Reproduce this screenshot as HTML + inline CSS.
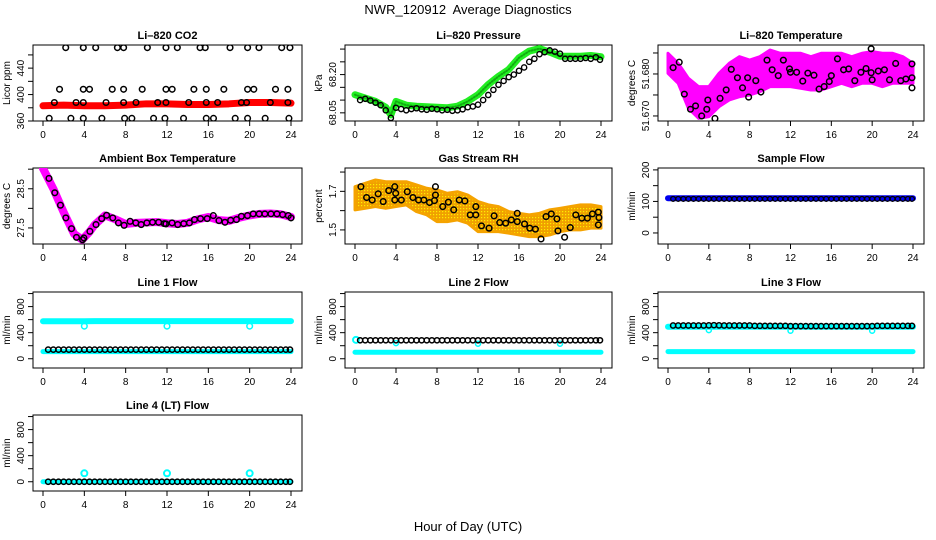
<!DOCTYPE html>
<html><head><meta charset="utf-8"><style>
body{margin:0;background:#fff;}
svg{display:block;font-family:"Liberation Sans",sans-serif;}
</style></head><body>
<svg id="chart" width="936" height="540" viewBox="0 0 936 540">
<text x="468" y="14" text-anchor="middle" font-size="13">NWR_120912&#160; Average Diagnostics</text>
<text x="468" y="531" text-anchor="middle" font-size="13">Hour of Day (UTC)</text>
</svg>
<script>
// ---------- data ----------
const xTicks=[0,4,8,12,16,20,24];
const halfHours=[];for(let i=1;i<=48;i++)halfHours.push(i*0.5);
const hourly=[0,1,2,3,4,5,6,7,8,9,10,11,12,13,14,15,16,17,18,19,20,21,22,23,24];

// CO2
const co2BlackT=[2.2,3.9,5.1,7.2,7.8,10.1,11.9,13.0,15.2,15.7,18.1,19.8,20.9,23.1,23.9,
1.6,3.9,4.5,6.7,7.8,9.6,11.9,12.5,14.6,15.8,17.5,19.8,20.4,22.5,23.7,
1.1,3.2,3.9,6.1,7.8,9.0,11.1,11.9,14.1,15.8,16.9,19.2,19.7,22.0,23.7,
0.6,2.7,3.9,5.7,7.9,8.6,10.7,11.8,13.6,15.8,16.5,18.6,19.8,21.5,23.8];
const co2BlackV=[471,471,471,471,471,471,471,471,471,471,471,471,471,471,471,
408,408,408,408,408,408,408,408,408,408,408,408,408,408,408,
388,388,388,388,388,388,388,388,388,388,388,388,388,388,388,
364,364,364,364,364,364,364,364,364,364,364,364,364,364,364];
const co2RedT=[0,2,4,6,8,10,12,14,16,18,20,22,24];
const co2RedV=[383,384,383,383,384,386,386,385,385,386,388,388,387];

// Pressure
const presGreenT=[0,1,2,3,3.5,4,5,6,7,8,9,10,11,12,13,14,15,16,17,18,19,20,21,22,23,24];
const presGreenV=[68.121,68.108,68.095,68.072,68.042,68.095,68.080,68.076,68.074,68.072,68.070,68.076,68.095,68.121,68.161,68.193,68.22,68.266,68.292,68.302,68.288,68.272,68.272,68.272,68.275,68.27];
const presBlackV=[68.100,68.105,68.098,68.090,68.080,68.060,68.030,68.070,68.065,68.060,68.065,68.068,68.064,68.062,68.066,68.064,68.060,68.062,68.058,68.060,68.064,68.072,68.075,68.082,68.100,68.120,68.140,68.160,68.175,68.190,68.200,68.215,68.228,68.250,68.262,68.280,68.288,68.295,68.290,68.282,68.262,68.262,68.262,68.262,68.265,68.262,68.268,68.258];

// Li-820 Temperature
const tempBandT=[0,1,2,3,4,5,6,7,8,9,10,11,12,13,14,15,16,17,18,19,20,21,22,23,24];
const tempBandHi=[51.68493,51.68254,51.67897,51.67698,51.67698,51.68016,51.68254,51.68412,51.68333,51.68412,51.68571,51.68493,51.68493,51.68493,51.68412,51.68493,51.68493,51.68493,51.68412,51.68493,51.68532,51.68493,51.68493,51.68412,51.68254];
const tempBandLo=[51.68016,51.67778,51.67183,51.66944,51.66984,51.67222,51.67381,51.67460,51.67500,51.67579,51.67698,51.67698,51.67698,51.67659,51.67619,51.67619,51.67698,51.67778,51.67698,51.67778,51.67778,51.67698,51.67778,51.67778,51.67778];
const tempBlackT=[0.5,1.1,1.6,2.2,2.7,3.3,3.8,3.9,4.6,5.1,5.7,6.2,6.8,7.3,7.8,7.9,8.6,9.1,9.7,10.2,10.8,11.3,11.9,12.0,12.6,13.2,13.7,14.3,14.8,15.3,15.8,16.0,16.6,17.2,17.7,18.3,18.9,19.4,19.9,19.9,20.0,20.6,21.2,21.7,22.3,22.8,23.3,23.9,23.9,23.9];
const tempBlackV=[51.6815,51.6828,51.6752,51.6716,51.6724,51.6700,51.6716,51.6738,51.6694,51.6742,51.6762,51.6811,51.6791,51.6767,51.6791,51.6745,51.6784,51.6757,51.6833,51.6810,51.6796,51.6833,51.6812,51.6804,51.6804,51.6783,51.6802,51.6797,51.6764,51.6770,51.6782,51.6796,51.6836,51.6810,51.6812,51.6784,51.6804,51.6813,51.6860,51.6803,51.6786,51.6807,51.6810,51.6786,51.6825,51.6784,51.6788,51.6791,51.6767,51.6824];

// Ambient box temperature
const ambLineT=[0,1,2,3,3.8,4.5,5,6,7,8,9,10,11,12,13,14,15,16,17,18,19,20,21,22,23,24];
const ambLineV=[29.02,28.5,27.9,27.35,27.2,27.4,27.58,27.82,27.72,27.6,27.63,27.64,27.65,27.62,27.6,27.63,27.72,27.78,27.7,27.68,27.76,27.82,27.86,27.87,27.85,27.78];
const ambBlackT=[0.58,1.14,1.69,2.21,2.76,3.24,3.83,3.96,4.54,5.13,5.68,6.16,6.75,7.3,7.85,8.43,8.98,9.5,10.05,10.6,11.19,11.74,11.9,12.49,13.04,13.62,14.17,14.66,15.24,15.89,16.48,17.03,17.61,18.16,18.72,19.2,19.79,20.34,20.92,21.47,22.06,22.64,23.19,23.74,24.0];
const ambBlackV=[28.764,28.397,28.080,27.756,27.482,27.259,27.2,27.244,27.413,27.585,27.738,27.823,27.756,27.628,27.567,27.669,27.628,27.585,27.628,27.644,27.644,27.610,27.603,27.628,27.585,27.610,27.628,27.713,27.738,27.738,27.815,27.687,27.644,27.695,27.713,27.797,27.815,27.859,27.859,27.859,27.859,27.859,27.841,27.815,27.756];

// Gas stream RH
const rhBandT=[0,1,2,3,4,5,6,7,8,9,10,11,12,13,14,15,16,17,18,19,20,21,22,23,24];
const rhBandHi=[1.724,1.742,1.759,1.750,1.750,1.750,1.733,1.716,1.707,1.690,1.698,1.681,1.647,1.630,1.621,1.595,1.586,1.578,1.586,1.604,1.612,1.621,1.630,1.630,1.621];
const rhBandLo=[1.604,1.612,1.621,1.612,1.621,1.630,1.595,1.578,1.543,1.543,1.552,1.535,1.491,1.491,1.491,1.483,1.474,1.465,1.465,1.474,1.491,1.500,1.500,1.509,1.509];
const rhBlackT=[0.58,1.13,1.68,2.26,2.75,3.29,3.88,3.88,3.97,4.52,5.10,5.65,6.2,6.72,7.27,7.75,7.85,7.85,8.56,9.11,9.63,10.17,10.72,11.24,11.79,11.79,12.34,13.08,13.57,14.12,14.7,15.25,15.83,15.83,16.54,17.05,17.6,18.15,18.64,19.15,19.7,19.8,20.45,21.0,21.54,22.13,22.67,23.16,23.74,23.74,23.8];
const rhBlackV=[1.724,1.668,1.655,1.687,1.647,1.704,1.724,1.655,1.690,1.655,1.698,1.668,1.655,1.655,1.642,1.652,1.724,1.681,1.621,1.644,1.604,1.655,1.650,1.578,1.621,1.578,1.521,1.509,1.573,1.538,1.535,1.552,1.586,1.543,1.531,1.509,1.504,1.453,1.569,1.583,1.557,1.495,1.462,1.512,1.578,1.561,1.561,1.583,1.592,1.526,1.564];

// Sample flow
const sampleBlue=[110,110,110,110,110,110,110,110,110,110,110,110,110,110,110,110,110,110,110,110,110,110,110,110,110];
const sampleBlack=[108,108,108,108,108,108,108,108,108,108,108,108,108,108,108,108,108,108,108,108,108,108,108,108,108,108,108,108,108,108,108,108,108,108,108,108,108,108,108,108,108,108,108,108,108,108,108,108];

// Line flows
const line1CyanHi=[575,575,575,575,575,578,578,578,578,578,578,578,578,578,578,578,578,578,578,578,578,578,578,578,578];
const line1CyanLo=[110,110,110,110,110,110,110,110,110,110,110,110,110,110,110,110,110,110,110,110,110,110,110,110,110];
const line1BlackV=[140,140,140,140,140,140,140,140,140,140,140,140,140,140,140,140,140,140,140,140,140,140,140,140,140,140,140,140,140,140,140,140,140,140,140,140,140,140,140,140,140,140,140,140,140,140,140,140];
const line1DipT=[4,12,20];const line1DipV=[500,500,500];
const line2CyanLo=[100,100,100,100,100,100,100,100,100,100,100,100,100,100,100,100,100,100,100,100,100,100,100,100,100];
const line2BlackV=[283,283,283,283,283,283,283,283,283,283,283,283,283,283,283,283,283,283,283,283,283,283,283,283,283,283,283,283,283,283,283,283,283,283,283,283,283,283,283,283,283,283,283,283,283,283,283,283];
const line2StartV=[290];const line2DipT=[4,12,20];const line2DipV=[240,230,230];
const line3CyanHi=[490,490,490,490,490,490,490,490,490,490,490,490,490,490,490,490,490,490,490,490,490,490,490,490,490];
const line3CyanLo=[110,110,110,110,110,110,110,110,110,110,110,110,110,110,110,110,110,110,110,110,110,110,110,110,110];
const line3BlackV=[510,510,510,510,510,510,510,512,515,512,510,510,510,510,510,510,505,505,505,505,505,505,505,500,500,500,500,500,500,500,500,500,500,500,500,500,500,500,500,500,505,505,505,505,505,505,505,505];
const line3DipT=[4,12,20];const line3DipV=[440,430,430];
const line4CyanLo=[0,0,0,0,0,0,0,0,0,0,0,0,0,0,0,0,0,0,0,0,0,0,0,0,0];
const line4BlackV=[0,0,0,0,0,0,0,0,0,0,0,0,0,0,0,0,0,0,0,0,0,0,0,0,0,0,0,0,0,0,0,0,0,0,0,0,0,0,0,0,0,0,0,0,0,0,0,0];
const line4SpikeT=[4,12,20];const line4SpikeV=[130,130,130];

// ---------- drawing ----------
const NS="http://www.w3.org/2000/svg";
const svg=document.getElementById('chart');
function mk(tag,attrs,parent){const e=document.createElementNS(NS,tag);for(const k in attrs)e.setAttribute(k,attrs[k]);(parent||svg).appendChild(e);return e;}

const colL=[33,345,658],colR=[302,612,924],rowT=[45,168,292,415],H=76;
function panel(col,row,title,ylab,ylim,ticks,labels,name){
  const L=colL[col],R=colR[col],T=rowT[row],B=T+H;
  const x0=L+10,x1=R-11;
  const g=mk('g',{});
  
  
  const sx=h=>x0+(x1-x0)*h/24;
  const sy=v=>B-(v-ylim[0])/(ylim[1]-ylim[0])*H;
  const t=mk('text',{x:(L+R)/2,y:T-6,'text-anchor':'middle','font-size':11,'font-weight':'bold'},g);t.textContent=title;
  
  const box=mk('rect',{x:L,y:T,width:R-L,height:H,fill:'none',stroke:'#000','stroke-width':1},g);
  
  const xa=mk('g',{},g);
  mk('line',{x1:sx(0),x2:sx(24),y1:B,y2:B,stroke:'#000'},xa);
  xTicks.forEach(h=>{mk('line',{x1:sx(h),x2:sx(h),y1:B,y2:B+5,stroke:'#000'},xa);
    const tl=mk('text',{x:sx(h),y:B+17,'text-anchor':'middle','font-size':10},xa);tl.textContent=h;});
  const ya=mk('g',{},g);
  mk('line',{x1:L,x2:L,y1:sy(ticks[0]),y2:sy(ticks[ticks.length-1]),stroke:'#000'},ya);
  ticks.forEach((v,i)=>{mk('line',{x1:L-5,x2:L,y1:sy(v),y2:sy(v),stroke:'#000'},ya);
    if(labels[i]){const tl=mk('text',{x:L-9,y:sy(v),'text-anchor':'middle','font-size':10,transform:`rotate(-90 ${L-9} ${sy(v)})`},ya);tl.textContent=labels[i];}});
  const yt=mk('text',{x:L-23,y:(T+B)/2,'text-anchor':'middle','font-size':10,transform:`rotate(-90 ${L-23} ${(T+B)/2})`},g);yt.textContent=ylab;
  
  const clipId='c'+name;const cp=mk('clipPath',{id:clipId},g);mk('rect',{x:L,y:T,width:R-L,height:H},cp);
  const d=mk('g',{'clip-path':`url(#${clipId})`},g);
  return {g:d,sx,sy};
}
function pts(p,ts,vs,color,r,sw,nm){const g=mk('g',{},p.g);
  ts.forEach((t,i)=>{mk('circle',{cx:p.sx(t),cy:p.sy(vs[i]),r:r||2.8,fill:'none',stroke:color,'stroke-width':sw||1.4},g);});}
function line(p,ts,vs,color,w,nm,extra){const g=mk('polyline',Object.assign({points:ts.map((t,i)=>p.sx(t)+','+p.sy(vs[i])).join(' '),fill:'none',stroke:color,'stroke-width':w,'stroke-linejoin':'round','stroke-linecap':'round'},extra||{}),p.g);
  }
function band(p,ts,hi,lo,fill,nm){const a=ts.map((t,i)=>p.sx(t)+','+p.sy(hi[i]));const b=ts.map((t,i)=>p.sx(t)+','+p.sy(lo[i])).reverse();
  const e=mk('polygon',{points:a.concat(b).join(' '),fill:fill,stroke:fill==='url(#rhpat)'?'#f5a300':fill,'stroke-width':3,'stroke-linejoin':'round'},p.g);
  }

const defs=mk('defs',{});const pat=mk('pattern',{id:'rhpat',width:3,height:3,patternUnits:'userSpaceOnUse'},defs);
mk('rect',{width:3,height:3,fill:'#f0a000'},pat);mk('rect',{x:1,y:1,width:1.2,height:1.2,fill:'#ffee00'},pat);

const flowTicks=[0,200,400,600,800,1000],flowLab=['0','','400','','800',''];
const bt=halfHours.slice(0,47).concat([23.9]);

let p=panel(0,0,'Li–820 CO2','Licor ppm',[360,475],[360,380,400,420,440,460],['360','','400','','440',''],'co2');
line(p,co2RedT,co2RedV,'#ff0000',7,'co2-red-series');
pts(p,co2BlackT,co2BlackV,'#000',2.8,1.5,'co2-black-points');

p=panel(1,0,'Li–820 Pressure','kPa',[68.018,68.316],[68.05,68.10,68.15,68.20,68.25,68.30],['68.05','','','68.20','',''],'pressure');
line(p,presGreenT,presGreenV,'#22ee22',7,'pressure-green-series');
line(p,presGreenT,presGreenV,'#11aa11',2,'pressure-green-core',{'stroke-dasharray':'1 2'});
pts(p,bt,presBlackV,'#000',2.6,1.4,'pressure-black-points');

p=panel(2,0,'Li–820 Temperature','degrees C',[51.6688,51.6869],[51.670,51.675,51.680,51.685],['51.670','','51.680',''],'li820-temp');
band(p,tempBandT,tempBandHi,tempBandLo,'#ff00ff','li820-temp-magenta-band');
pts(p,tempBlackT,tempBlackV,'#000',2.8,1.5,'li820-temp-black-points');

p=panel(0,1,'Ambient Box Temperature','degrees C',[27.09,29.03],[27.5,28.0,28.5,29.0],['27.5','','28.5',''],'ambient-temp');
line(p,ambLineT,ambLineV,'#ff00ff',8,'ambient-magenta-series');
pts(p,ambBlackT,ambBlackV,'#000',2.8,1.5,'ambient-black-points');

p=panel(1,1,'Gas Stream RH','percent',[1.427,1.821],[1.5,1.6,1.7,1.8],['1.5','','1.7',''],'gas-rh');
band(p,rhBandT,rhBandHi,rhBandLo,'url(#rhpat)','gas-rh-band');
pts(p,rhBlackT,rhBlackV,'#000',2.8,1.5,'gas-rh-black-points');

p=panel(2,1,'Sample Flow','ml/min',[-35,206],[0,50,100,150,200],['0','','100','','200'],'sample-flow');
line(p,hourly,sampleBlue,'#0000ee',6,'sample-flow-blue-series');
pts(p,bt,sampleBlack,'#000',2.4,1.3,'sample-flow-black-points');

p=panel(0,2,'Line 1 Flow','ml/min',[-142,1024],flowTicks,flowLab,'line1-flow');
line(p,hourly,line1CyanHi,'#00ffff',6,'line1-cyan-upper');
line(p,hourly,line1CyanLo,'#00ffff',5,'line1-cyan-lower');
pts(p,line1DipT,line1DipV,'#00ffff',2.8,1.5,'line1-cyan-dips');
pts(p,bt,line1BlackV,'#000',2.6,1.5,'line1-black-points');

p=panel(1,2,'Line 2 Flow','ml/min',[-142,1024],flowTicks,flowLab,'line2-flow');
line(p,hourly,line2CyanLo,'#00ffff',5,'line2-cyan-lower');
pts(p,[0.1],line2StartV,'#00ffff',3,2,'line2-cyan-start');
pts(p,line2DipT,line2DipV,'#00ffff',2.5,1.5,'line2-cyan-dips');
pts(p,bt,line2BlackV,'#000',2.6,1.5,'line2-black-points');

p=panel(2,2,'Line 3 Flow','ml/min',[-142,1024],flowTicks,flowLab,'line3-flow');
line(p,hourly,line3CyanHi,'#00ffff',6,'line3-cyan-upper');
line(p,hourly,line3CyanLo,'#00ffff',5,'line3-cyan-lower');
pts(p,line3DipT,line3DipV,'#00ffff',2.5,1.5,'line3-cyan-dips');
pts(p,bt,line3BlackV,'#000',2.6,1.5,'line3-black-points');

p=panel(0,3,'Line 4 (LT) Flow','ml/min',[-142,1024],flowTicks,flowLab,'line4-flow');
line(p,hourly,line4CyanLo,'#00ffff',5,'line4-cyan-lower');
pts(p,line4SpikeT,line4SpikeV,'#00ffff',3,2,'line4-cyan-spikes');
pts(p,bt,line4BlackV,'#000',2.6,1.5,'line4-black-points');
</script>
</body></html>
